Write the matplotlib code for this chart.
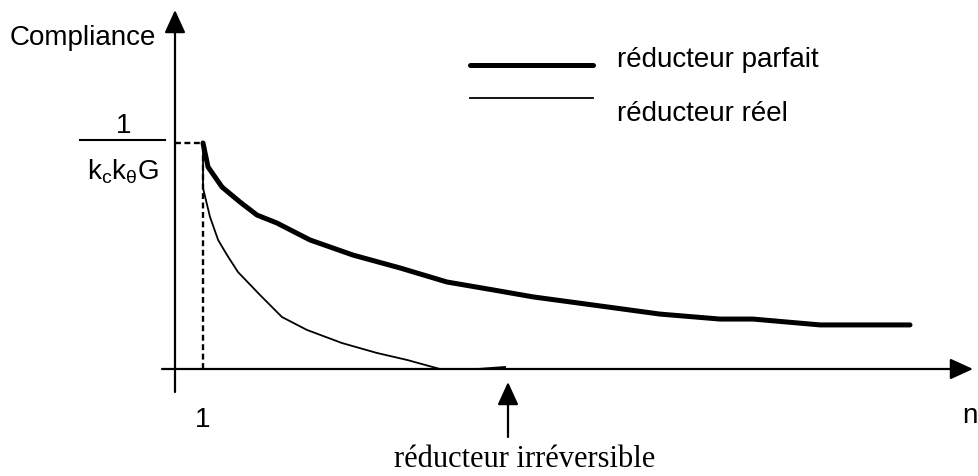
import matplotlib
matplotlib.use("Agg")
import matplotlib.pyplot as plt
from matplotlib.lines import Line2D

plt.rcParams['font.family'] = ['Liberation Sans', 'DejaVu Sans']
plt.rcParams['mathtext.fontset'] = 'custom'
plt.rcParams['mathtext.rm'] = 'Liberation Sans'
plt.rcParams['mathtext.it'] = 'Liberation Sans'

# ---- data (n, compliance normalised so that 1/(kc k_theta G) = 1) ----
n_parfait = [1.0, 1.18, 1.68, 2.32, 2.93, 3.64, 4.82, 6.36, 8.04, 9.71,
             11.36, 12.79, 15.18, 17.32, 19.46, 20.64, 23.04, 26.25]
c_parfait = [1.0, 0.894, 0.805, 0.739, 0.681, 0.646, 0.571, 0.504, 0.447, 0.385,
             0.350, 0.319, 0.279, 0.243, 0.221, 0.221, 0.195, 0.195]

n_reel = [1.0, 1.0, 1.25, 1.54, 1.86, 2.25, 3.04, 3.82, 4.71, 5.96,
          7.21, 8.29, 9.46, 10.79, 11.79]
c_reel = [1.0, 0.801, 0.673, 0.571, 0.504, 0.429, 0.327, 0.230, 0.173, 0.115,
          0.071, 0.040, 0.0, 0.0, 0.009]

n_ref = 1.0        # n = 1
c_max = 1.0        # 1/(kc k_theta G)

label_parfait = "réducteur parfait"
label_reel = "réducteur réel"
label_irrev = "réducteur irréversible"

W, H = 979, 476
fig = plt.figure(figsize=(W / 100, H / 100), dpi=100)
ax = fig.add_axes([0, 0, 1, 1])
ax.set_axis_off()
# axis limits: origin of drawn axes at px (175, 369); n scale 28 px/unit, C scale 226 px/unit
ax.set_xlim(-175 / 28, (W - 175) / 28)
ax.set_ylim((369 - H) / 226, 369 / 226)


def fp(x, y):
    return (x / W, 1 - y / H)


# axes with arrows
arrow = dict(arrowstyle='-|>,head_length=0.7,head_width=0.32', mutation_scale=20,
             lw=1.6, color='k', shrinkA=0, shrinkB=0)
ax.annotate('', xy=fp(175, 10), xytext=fp(175, 392), xycoords='figure fraction',
            textcoords='figure fraction', arrowprops=arrow)
ax.annotate('', xy=fp(973, 369), xytext=fp(162, 369), xycoords='figure fraction',
            textcoords='figure fraction', arrowprops=arrow)

# dotted guides
ax.plot([n_ref, n_ref], [0, c_max], color='k', lw=1.7, ls=(0, (2.5, 1.5)))
ax.plot([0, n_ref], [c_max, c_max], color='k', lw=1.7, ls=(0, (2.5, 1.5)))

# curves
ax.plot(n_parfait, c_parfait, color='k', lw=3.6, solid_capstyle='round',
        solid_joinstyle='round')
ax.plot(n_reel, c_reel, color='k', lw=1.3, solid_joinstyle='round')

# legend
fig.add_artist(Line2D([470 / W, 593 / W], [1 - 65 / H, 1 - 65 / H], color='k', lw=3.6,
                      solid_capstyle='round'))
fig.add_artist(Line2D([470 / W, 593 / W], [1 - 98 / H, 1 - 98 / H], color='k', lw=1.3))
fig.text(*fp(617, 67), label_parfait, fontsize=20, va='baseline', ha='left')
fig.text(*fp(617, 121), label_reel, fontsize=20, va='baseline', ha='left')

# axis labels
fig.text(*fp(10, 45), "Compliance", fontsize=20, va='baseline', ha='left')
fig.text(*fp(962, 423), "n", fontsize=20, va='baseline', ha='left')
fig.text(*fp(203, 427), "1", fontsize=20, va='baseline', ha='center')

# fraction label
fig.text(*fp(124, 133), "1", fontsize=20, va='baseline', ha='center')
fig.add_artist(Line2D([80 / W, 165 / W], [1 - 140 / H, 1 - 140 / H], color='k', lw=1.5))
fig.text(*fp(123, 179), r"$\mathregular{k_c k_\theta G}$", fontsize=20,
         va='baseline', ha='center')

# irreversible arrow
ax.annotate('', xy=fp(508, 382), xytext=fp(508, 437), xycoords='figure fraction',
            textcoords='figure fraction', arrowprops=arrow)
fig.text(*fp(525, 467), label_irrev, fontsize=22, va='baseline',
         ha='center', family=['Liberation Serif', 'DejaVu Serif'])

fig.savefig("out.png", dpi=100)
